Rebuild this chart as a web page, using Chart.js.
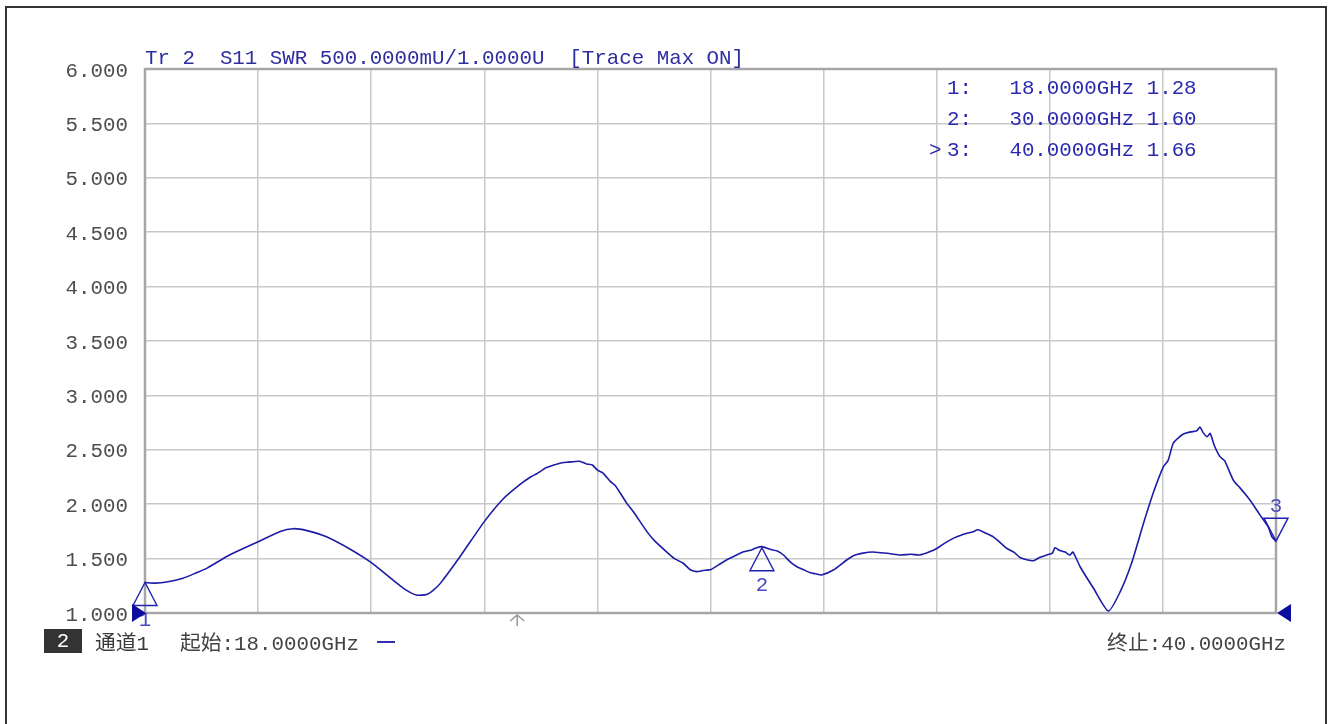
<!DOCTYPE html>
<html>
<head>
<meta charset="utf-8">
<script src="https://cdn.jsdelivr.net/npm/chart.js@4.4.0/dist/chart.umd.min.js"></script>
<style>
  html, body { margin: 0; padding: 0; background: #fff; }
  canvas { display: block; }
</style>
</head>
<body>
<canvas id="swr" width="1332" height="724"></canvas>
<script>
// Trace 2, S11 SWR, 18 - 40 GHz
const freqGHz = [
  18.00, 18.20, 18.42, 18.74, 19.00, 19.20, 19.59, 19.90, 20.20, 20.63,
  20.88, 21.15, 21.53, 22.05, 22.41, 22.83, 23.05, 23.28, 23.48, 23.61,
  23.74, 24.13, 24.60, 24.97, 25.29, 25.50, 25.62, 25.75, 25.80, 26.07,
  26.20, 26.33, 26.45, 26.59, 26.70, 26.81, 26.90, 27.05, 27.15, 27.37,
  27.50, 27.76, 27.90, 28.15, 28.30, 28.47, 28.60, 28.73, 28.85, 29.01,
  29.15, 29.31, 29.45, 29.64, 29.80, 29.90, 30.00, 30.16, 30.30, 30.42,
  30.55, 30.68, 30.80, 30.94, 31.05, 31.16, 31.39, 31.65, 31.80, 31.97,
  32.15, 32.30, 32.50, 32.69, 32.90, 33.07, 33.25, 33.41, 33.55, 33.72,
  33.90, 34.11, 34.20, 34.37, 34.50, 34.63, 34.76, 34.90, 35.02, 35.15,
  35.28, 35.40, 35.54, 35.65, 35.70, 35.77, 35.90, 35.99, 36.05, 36.19,
  36.45, 36.74, 36.97, 37.19, 37.42, 37.61, 37.81, 37.90, 38.00, 38.10,
  38.20, 38.30, 38.46, 38.52, 38.58, 38.66, 38.72, 38.80, 38.91, 39.00,
  39.17, 39.30, 39.44, 39.55, 39.69, 39.85, 39.92, 40.00
];
const swrValues = [
  1.280, 1.275, 1.285, 1.320, 1.370, 1.410, 1.520, 1.590, 1.655, 1.750,
  1.775, 1.757, 1.700, 1.570, 1.460, 1.300, 1.220, 1.165, 1.170, 1.210,
  1.270, 1.520, 1.840, 2.050, 2.180, 2.250, 2.280, 2.320, 2.335, 2.376,
  2.385, 2.390, 2.395, 2.370, 2.360, 2.310, 2.290, 2.210, 2.170, 2.010,
  1.930, 1.750, 1.670, 1.560, 1.500, 1.457, 1.400, 1.380, 1.390, 1.400,
  1.440, 1.487, 1.520, 1.563, 1.580, 1.600, 1.610, 1.585, 1.570, 1.533,
  1.470, 1.425, 1.400, 1.370, 1.360, 1.350, 1.395, 1.487, 1.530, 1.550,
  1.560, 1.554, 1.545, 1.533, 1.540, 1.533, 1.560, 1.595, 1.640, 1.686,
  1.720, 1.747, 1.765, 1.730, 1.700, 1.650, 1.595, 1.560, 1.510, 1.490,
  1.480, 1.510, 1.533, 1.550, 1.600, 1.580, 1.560, 1.533, 1.560, 1.425,
  1.227, 1.018, 1.196, 1.457, 1.820, 2.100, 2.345, 2.400, 2.560, 2.610,
  2.645, 2.660, 2.675, 2.710, 2.660, 2.620, 2.650, 2.540, 2.437, 2.400,
  2.220, 2.150, 2.070, 2.000, 1.900, 1.790, 1.700, 1.660
];

// 10 horizontal divisions, 2.2 GHz each
const gridFreqs = [18, 20.2, 22.4, 24.6, 26.8, 29, 31.2, 33.4, 35.6, 37.8, 40];

const markerFreqs = [18, 30, 40];
const markerValues = [1.28, 1.60, 1.66];
const markerNames = ['1', '2', '3'];
const markerRows = ['1:   18.0000GHz 1.28', '2:   30.0000GHz 1.60', '3:   40.0000GHz 1.66'];
const activeMarker = 2;

const headerText = 'Tr 2  S11 SWR 500.0000mU/1.0000U  [Trace Max ON]';
const channelText = '通道1';
const startText = '起始:18.0000GHz';
const stopText = '终止:40.0000GHz';
const arrowFreq = 25.24;

const MONO = '"Liberation Mono", "Noto Sans CJK SC", monospace';

const overlay = {
  id: 'overlay',
  beforeDraw(chart) {
    const ctx = chart.ctx;
    ctx.save();
    ctx.fillStyle = '#fff';
    ctx.fillRect(0, 0, chart.width, chart.height);
    ctx.restore();
  },
  beforeDatasetsDraw(chart) {
    const { ctx, chartArea: a } = chart;
    ctx.save();
    ctx.strokeStyle = '#a6a6a6';
    ctx.lineWidth = 2.5;
    ctx.strokeRect(a.left, a.top, a.right - a.left, a.bottom - a.top);
    ctx.restore();
  },
  afterDraw(chart) {
    const { ctx, scales } = chart;
    const x = scales.x, y = scales.y;
    ctx.save();

    // outer frame of the screen
    ctx.strokeStyle = '#333';
    ctx.lineWidth = 2;
    ctx.strokeRect(6, 7, 1320, 740);

    ctx.font = '20.8px ' + MONO;
    ctx.textBaseline = 'alphabetic';
    ctx.textAlign = 'left';

    // trace header
    ctx.fillStyle = '#2e2e9e';
    ctx.fillText(headerText, 145, 64);

    // marker table
    ctx.fillStyle = '#2a2ab0';
    markerRows.forEach((row, i) => {
      const by = 94 + i * 31;
      ctx.fillText(row, 947, by);
      if (i === activeMarker) ctx.fillText('>', 929, by);
    });

    // marker triangles
    ctx.strokeStyle = '#2020b0';
    ctx.lineWidth = 1.4;
    ctx.textAlign = 'center';
    ctx.textBaseline = 'middle';
    markerFreqs.forEach((f, i) => {
      const px = x.getPixelForValue(f);
      const py = y.getPixelForValue(markerValues[i]);
      const down = i === activeMarker;
      const dir = down ? -1 : 1;
      ctx.beginPath();
      ctx.moveTo(px, py);
      ctx.lineTo(px - 12, py + dir * 23);
      ctx.lineTo(px + 12, py + dir * 23);
      ctx.closePath();
      ctx.stroke();
      ctx.fillStyle = '#4a4ac0';
      ctx.fillText(markerNames[i], px, py + dir * (down ? 35 : 38));
    });

    // reference level arrows at 1.000
    const ry = y.getPixelForValue(1);
    ctx.fillStyle = '#0c0c9c';
    ctx.beginPath();
    ctx.moveTo(x.left - 13, ry - 9);
    ctx.lineTo(x.left + 1, ry);
    ctx.lineTo(x.left - 13, ry + 9);
    ctx.closePath();
    ctx.fill();
    ctx.beginPath();
    ctx.moveTo(x.right + 1, ry);
    ctx.lineTo(x.right + 15, ry - 9);
    ctx.lineTo(x.right + 15, ry + 9);
    ctx.closePath();
    ctx.fill();

    // small arrow under the axis
    const ax = x.getPixelForValue(arrowFreq);
    ctx.strokeStyle = '#9a9a9a';
    ctx.lineWidth = 1.5;
    ctx.beginPath();
    ctx.moveTo(ax, ry + 2);
    ctx.lineTo(ax, ry + 13);
    ctx.moveTo(ax - 7, ry + 8);
    ctx.lineTo(ax, ry + 2);
    ctx.lineTo(ax + 7, ry + 8);
    ctx.stroke();

    // bottom status line
    ctx.fillStyle = '#333';
    ctx.fillRect(44, 629, 38, 24);
    ctx.fillStyle = '#fff';
    ctx.fillText('2', 63, 641);

    ctx.textAlign = 'left';
    ctx.textBaseline = 'alphabetic';
    ctx.fillStyle = '#3a3a3a';
    ctx.fillText(channelText, 95, 650);
    ctx.fillStyle = '#444';
    ctx.fillText(startText, 180, 650);
    ctx.textAlign = 'right';
    ctx.fillText(stopText, 1286, 650);

    ctx.strokeStyle = '#3030b0';
    ctx.lineWidth = 2;
    ctx.beginPath();
    ctx.moveTo(377, 642);
    ctx.lineTo(395, 642);
    ctx.stroke();

    ctx.restore();
  }
};

new Chart(document.getElementById('swr'), {
  type: 'line',
  data: {
    datasets: [{
      label: 'S11 SWR',
      data: freqGHz.map((f, i) => ({ x: f, y: swrValues[i] })),
      borderColor: '#1c1ca6',
      borderWidth: 1.6,
      pointRadius: 0,
      tension: 0.2,
      fill: false
    }]
  },
  options: {
    responsive: false,
    animation: false,
    devicePixelRatio: 1,
    layout: { padding: { left: 0, top: 69, right: 56, bottom: 111 } },
    plugins: {
      legend: { display: false },
      tooltip: { enabled: false }
    },
    scales: {
      x: {
        type: 'linear',
        min: 18,
        max: 40,
        afterBuildTicks: (scale) => { scale.ticks = gridFreqs.map(v => ({ value: v })); },
        afterFit: (scale) => { scale.height = 0; },
        ticks: { display: false },
        border: { display: false },
        grid: { color: '#c8c8c8', lineWidth: 1.5, drawTicks: false }
      },
      y: {
        min: 1,
        max: 6,
        afterFit: (scale) => { scale.width = 145; },
        ticks: {
          stepSize: 0.5,
          padding: 17,
          labelOffset: 2,
          color: '#4d4d4d',
          font: { family: MONO, size: 20.8 },
          callback: (v) => v.toFixed(3)
        },
        border: { display: false },
        grid: { color: '#c8c8c8', lineWidth: 1.5, drawTicks: false }
      }
    }
  },
  plugins: [overlay]
});
</script>
</body>
</html>
